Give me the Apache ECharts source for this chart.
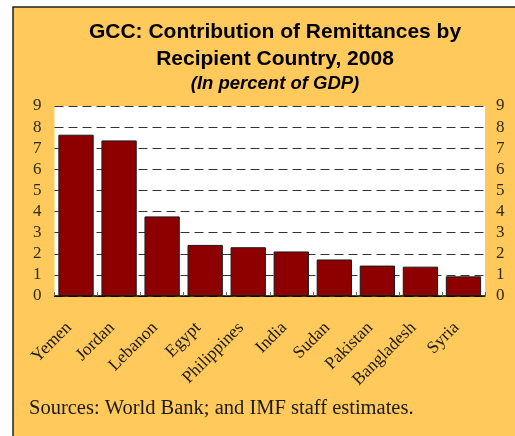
<!DOCTYPE html>
<html><head><meta charset="utf-8">
<script src="https://cdn.jsdelivr.net/npm/echarts@6/dist/echarts.min.js"></script>
<style>html,body{margin:0;padding:0;background:#fff}#c{width:515px;height:436px}</style>
</head><body><div id="c"></div>
<script>
var categories = ['Yemen','Jordan','Lebanon','Egypt','Philippines','India','Sudan','Pakistan','Bangladesh','Syria'];
var values = [7.64, 7.37, 3.77, 2.42, 2.31, 2.11, 1.73, 1.44, 1.39, 0.93];
var titleText = 'GCC: Contribution of Remittances by\nRecipient Country, 2008';
var subtitleText = '(In percent of GDP)';
var sourceText = 'Sources: World Bank; and IMF staff estimates.';

var chart = echarts.init(document.getElementById('c'));
var serif = '"Liberation Serif","DejaVu Serif",serif';
var yLabel = {fontFamily: serif, fontSize: 17, color: '#2e2a1a'};
chart.setOption({
  animation: false,
  backgroundColor: '#fff',
  graphic: [
    {type:'rect', z:-10, shape:{x:13, y:7, width:510, height:440}, style:{fill:'#FFC95C', stroke:'#222', lineWidth:1.5}},
    {type:'text', left:29, top:398, style:{text: sourceText, font:'20.5px ' + serif, fill:'#1a1a1a'}}
  ],
  title: {
    text: titleText, subtext: subtitleText,
    left: 270, top: 14, textAlign: 'center', itemGap: 1,
    textStyle: {fontFamily:'"Liberation Sans",Arial,sans-serif', fontWeight:'bold', fontSize:21, lineHeight:27, color:'#000'},
    subtextStyle: {fontFamily:'"Liberation Sans",Arial,sans-serif', fontWeight:'bold', fontStyle:'italic', fontSize:18.5, color:'#000'}
  },
  grid: {left:54.5, right:30, top:106, bottom:140, show:true, backgroundColor:'#fff', borderWidth:0},
  xAxis: {
    type:'category', data: categories,
    axisLine:{show:true, lineStyle:{color:'#000', width:1.5}},
    axisTick:{show:true, inside:true, length:4, lineStyle:{color:'#666'}},
    axisLabel:{rotate:45, margin:22, padding:[0,10,0,0], fontFamily: serif, fontSize:17.5, color:'#1a1a1a', interval:0}
  },
  yAxis: [
    {type:'value', min:0, max:9, interval:1, axisLine:{show:false}, axisTick:{show:false},
     axisLabel: Object.assign({margin:13}, yLabel),
     splitLine:{show:true, lineStyle:{color:'#333', type:[9,5], width:1}}},
    {type:'value', min:0, max:9, interval:1, position:'right', axisLine:{show:false}, axisTick:{show:false},
     axisLabel: Object.assign({margin:11}, yLabel), splitLine:{show:false}}
  ],
  series: [{
    type:'bar', data: values, barCategoryGap:'18%',
    itemStyle:{color:'#8E0000', borderColor:'#1a1a1a', borderWidth:1}
  }]
});
</script></body></html>
